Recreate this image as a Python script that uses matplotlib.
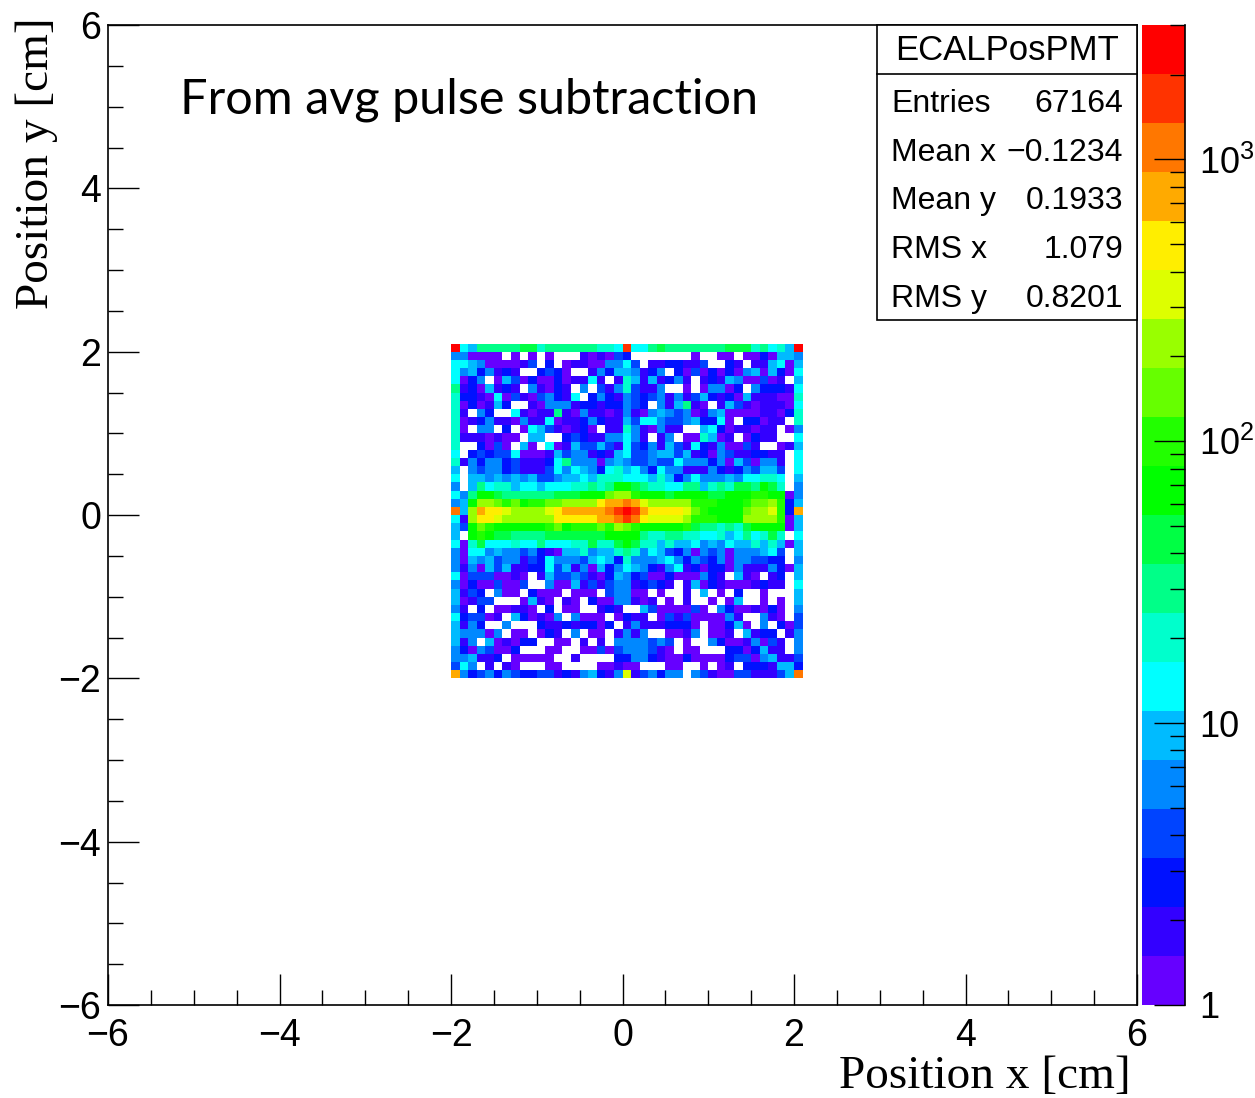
import numpy as np
import matplotlib
matplotlib.use("Agg")
import matplotlib.pyplot as plt
from matplotlib.colors import ListedColormap, LogNorm
from matplotlib.ticker import MultipleLocator, FixedLocator, LogLocator, FuncFormatter, NullFormatter
from matplotlib.patches import Rectangle
from matplotlib.lines import Line2D

plt.rcParams["font.family"] = ["Liberation Sans", "DejaVu Sans"]
plt.rcParams["mathtext.fontset"] = "custom"
plt.rcParams["mathtext.rm"] = "Liberation Sans"
plt.rcParams["mathtext.it"] = "Liberation Sans:italic"
plt.rcParams["mathtext.bf"] = "Liberation Sans:bold"
plt.rcParams["mathtext.default"] = "regular"

W, H = 1255, 1098

# 0.1 cm bins, filled region of the ECAL face
X_EDGES = np.round(np.arange(-2.0, 2.1001, 0.1), 2)
Y_EDGES = np.round(np.arange(-2.0, 2.1001, 0.1), 2)

# z range of the log colour scale and the 20 contour colours (low -> high)
ZMIN, ZMAX = 1.0, 3000.0
PALETTE = [
    "#6600FF", "#3300FF", "#0011FF", "#0044FF", "#0088FF",
    "#00BBFF", "#00FFFF", "#00FFCC", "#00FF88", "#00FF44",
    "#00FF00", "#22FF00", "#66FF00", "#99FF00", "#DDFF00",
    "#FFEE00", "#FFAA00", "#FF7700", "#FF3300", "#FF0000",
]

# contour band of every bin, top row (y = 2.0..2.1) first, x = -2.0 -> 2.1
# '.' = empty, 1..9 then a..k = bands 10..20
BAND_CODES = ".123456789abcdefghijk"
ROWS = [
    "k7699999aa8999" "999887j779a999" "9999aaa89786k",
    "551111.1.1.1.." ".212143......." "1..11.1131665",
    "7765111124.3.1" "22115574.22332" "24..32.226716",
    "75635232..3431" "..253665235.31" "4131315616317",
    "7135.164131131" "2272.286262352" ".2326511412.6",
    "92316232.52132" ".5.42584225..1" ".15513.533327",
    "83321714214532" "7.353254345252" "4632316222118",
    "8131263..21555" "233233543.5269" "21.2642122217",
    "82.53..7212292" "15221252156545" "1256111122138",
    "81235221522712" "23532264775445" "63371.33122.8",
    "81.55.3.176421" "231.228521522." ".673122122.15",
    "82221211.66..3" "432255752.25.1" "18612.1322..7",
    "8..3141.61.712" "64464274352642" "73251142..126",
    "7.343447111264" "55232674456646" "23154223322.7",
    "82535534222379" "55515654454475" "55351641552.7",
    "6.545534222475" "76537867537552" "22532354664.7",
    "7.665656564456" "67688877768635" "75556577887.6",
    "5.697886776777" "88989bba988779" "96898aa9ba8.5",
    "759bba999999aa" "abbbdeecbbbabb" "bbaabbbccbb15",
    "56beedcdbccdde" "eeeghhihfeeeee" "cccbbbcddec36",
    "i6ehggfeeeefgh" "hhhhijkjhggggf" "dcbbbbdeefc3h",
    "72eggfeeeeeegg" "ggghhijigffffe" "cccbbbeeeec16",
    "64bdcbbbbbbcdb" "cccdcedcbbbbbc" "a99898abbbb16",
    "6.bcbaa9999aaa" "aaaabbbb988998" "877867978a8.7",
    "718a7778779777" "88a88aba886866" "7565766868616",
    "51775655453216" "68566898576435" "15451555674.6",
    "51656455243755" "54676385556753" "54351554433.5",
    "52516462233746" "25163576532572" "3133152225316",
    "714441121.2644" "54213653411311" "1532.621.23.6",
    "513114114..511" "624245523432.2" "61321112322.7",
    "6243.511.3111." "111.45511.1..2" ".6.1.3..1...6",
    "61244...1621.2" "1.31155212.1.2" "..1.16..1.1.6",
    "52.3.11221.3.1" "1..232..641111" "41.53112131.5",
    "734412.631215." "5111.1322.1424" "111152..521.4",
    "6253..5...3223" "23313.25222333" "1.11361.5.314",
    "655515.11.132." "5.11.2525..112" "5.112.6233.25",
    "625.612133..11" ".2.2.5555454.1" "..531125142.5",
    "53154113...11." ".11414555421.1" "1...3313622.5",
    "556223.11111.." "2....335532113" "1111344156224",
    "475.2.21...11." "...11211...11." ".1.12.3332663",
    "h5345354334423" "256325f245355." "542114422246i",
]

STATS_NAME = "ECALPosPMT"
STATS_LABELS = ["Entries", "Mean x", "Mean y", "RMS x", "RMS y"]
STATS_VALUES = ["67164", "\u22120.1234", "0.1933", "1.079", "0.8201"]

# band index -> entries (geometric centre of the band)
step = np.log10(ZMAX / ZMIN) / len(PALETTE)
band = np.array([[BAND_CODES.index(c) for c in r] for r in ROWS])
assert band.shape == (len(Y_EDGES) - 1, len(X_EDGES) - 1)
counts = np.where(band > 0, np.rint(ZMIN * 10 ** ((band - 0.5) * step)), 0)
z = np.ma.masked_equal(counts[::-1], 0)


def fx(px):
    return px / W


def fy(py):
    return 1 - py / H


fig = plt.figure(figsize=(W / 100, H / 100), dpi=100)
ax = fig.add_axes([fx(108), fy(1005), fx(1137) - fx(108), fy(25) - fy(1005)])
mesh = ax.pcolormesh(X_EDGES, Y_EDGES, z, cmap=ListedColormap(PALETTE),
                     norm=LogNorm(vmin=ZMIN, vmax=ZMAX), antialiased=False, linewidth=0)
ax.set_xlim(-6, 6)
ax.set_ylim(-6, 6)
for axis in (ax.xaxis, ax.yaxis):
    axis.set_major_locator(MultipleLocator(2))
    axis.set_minor_locator(MultipleLocator(0.5))
ax.tick_params(which="both", direction="in", top=False, right=False, width=1.0, labelsize=27)
ax.tick_params(which="major", length=22)
ax.tick_params(which="minor", length=11)
ax.tick_params(axis="x", pad=9)
ax.tick_params(axis="y", pad=5)
for sp in ax.spines.values():
    sp.set_linewidth(1.2)

fig.text(fx(1131), fy(1088), "Position x [cm]", family="Liberation Serif", fontsize=34,
         ha="right", va="baseline")
fig.text(fx(37), fy(17), "Position y [cm]", family="Liberation Serif", fontsize=34,
         rotation=90, ha="center", va="top")
fig.text(fx(180), fy(113), "From avg pulse subtraction", family="Lato", fontsize=35,
         ha="left", va="baseline")

# colour scale
cax = fig.add_axes([fx(1142), fy(1005), fx(1185) - fx(1142), fy(25) - fy(1005)])
cb = fig.colorbar(mesh, cax=cax)
cb.outline.set_visible(False)
cax.yaxis.set_ticks_position("right")
cax.yaxis.set_major_locator(FixedLocator([1, 10, 100, 1000]))
cax.yaxis.set_minor_locator(LogLocator(base=10, subs=np.arange(2, 10), numticks=20))
cax.yaxis.set_minor_formatter(NullFormatter())
cax.yaxis.set_major_formatter(FuncFormatter(
    lambda v, pos: {1: "1", 10: "10"}.get(int(round(v)), "$10^{%d}$" % round(np.log10(v)))))
cax.tick_params(which="both", direction="in", right=True, left=False, width=1.0,
                labelsize=26, pad=10)
cax.tick_params(which="major", length=22)
cax.tick_params(which="minor", length=11)
cax.add_line(Line2D([1, 1], [0, 1], transform=cax.transAxes, color="black", lw=1.2,
                    clip_on=False))

# statistics box
fig.add_artist(Rectangle((fx(877), fy(320)), fx(1137) - fx(877), fy(25) - fy(320),
                         transform=fig.transFigure, facecolor="white", edgecolor="black",
                         lw=1.2, zorder=5))
fig.add_artist(Line2D([fx(877), fx(1137)], [fy(74), fy(74)], transform=fig.transFigure,
                      color="black", lw=1.2, zorder=6))
fig.text(fx(1007), fy(50), STATS_NAME, fontsize=25, ha="center", va="center", zorder=7)
for i, (lab, val) in enumerate(zip(STATS_LABELS, STATS_VALUES)):
    yb = 112 + i * 48.7
    fig.text(fx(891), fy(yb), lab, fontsize=23, ha="left", va="baseline", zorder=7)
    fig.text(fx(1123), fy(yb), val, fontsize=23, ha="right", va="baseline", zorder=7)

fig.savefig("out.png", dpi=100, facecolor="white")
